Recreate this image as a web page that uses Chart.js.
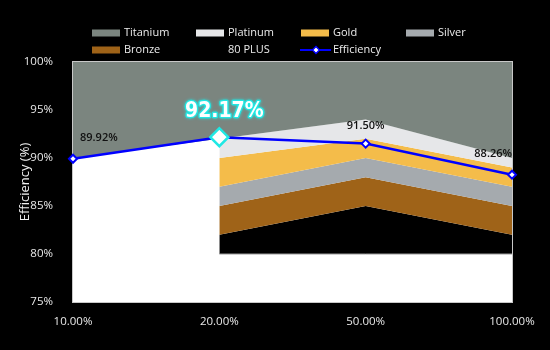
<!DOCTYPE html>
<html>
<head>
<meta charset="utf-8">
<script src="https://cdn.jsdelivr.net/npm/chart.js@4.4.1/dist/chart.umd.min.js"></script>
<style>
    html, body { margin: 0; padding: 0; background: #000; }
    #wrap { width: 550px; height: 350px; }
</style>
</head>
<body>
<div id="wrap"><canvas id="psuChart"></canvas></div>
<script>
// Load levels on the x axis
const loads = ['10.00%', '20.00%', '50.00%', '100.00%'];

// Minimum efficiency for each 80 PLUS tier (null = no requirement at that load)
const titanium = [90, 92, 94, 90];
const platinum = [null, 90, 92, 89];
const gold = [null, 87, 90, 87];
const silver = [null, 85, 88, 85];
const bronze = [null, 82, 85, 82];
const plus80 = [null, 80, 80, 80];

// Measured efficiency of the unit
const efficiency = [89.92, 92.17, 91.50, 88.26];

// Y axis tick values
const yTicks = [75, 80, 85, 90, 95, 100];

const peakIndex = efficiency.indexOf(Math.max(...efficiency));

// Each tier band fills from its own requirement up to the next tier above
const tierBand = (label, data, color, fill, extra) => Object.assign({
    label: label,
    data: data,
    backgroundColor: color,
    borderWidth: 0,
    pointRadius: 0,
    pointHoverRadius: 0,
    fill: fill,
    tension: 0,
    order: 1
}, extra || {});

// White plot background and light frame
const plotFrame = {
    id: 'plotFrame',
    beforeDatasetsDraw(chart) {
        const { ctx, chartArea: a } = chart;
        ctx.save();
        ctx.fillStyle = '#ffffff';
        ctx.fillRect(a.left, a.top, a.right - a.left, a.bottom - a.top);
        ctx.strokeStyle = '#c8c8c8';
        ctx.lineWidth = 1;
        ctx.strokeRect(a.left - 0.5, a.top - 0.5, a.right - a.left + 1, a.bottom - a.top + 1);
        ctx.restore();
    }
};

// Value labels over the efficiency points
const valueLabels = {
    id: 'valueLabels',
    afterDatasetsDraw(chart) {
        const { ctx } = chart;
        const idx = chart.data.datasets.findIndex(d => d.label === 'Efficiency');
        const meta = chart.getDatasetMeta(idx);
        const last = meta.data.length - 1;
        ctx.save();
        ctx.textBaseline = 'middle';
        meta.data.forEach((pt, i) => {
            const text = efficiency[i].toFixed(2) + '%';
            if (i === peakIndex) {
                ctx.font = 'bold 21px "DejaVu Sans Condensed"';
                ctx.textAlign = 'center';
                ctx.lineJoin = 'round';
                ctx.shadowColor = '#20e8e4';
                ctx.shadowBlur = 3;
                ctx.strokeStyle = '#20e8e4';
                ctx.lineWidth = 2.5;
                ctx.strokeText(text, pt.x + 5, pt.y - 26);
                ctx.shadowBlur = 0;
                ctx.fillStyle = '#ffffff';
                ctx.fillText(text, pt.x + 5, pt.y - 26);
                return;
            }
            ctx.font = '600 11px "Open Sans"';
            ctx.fillStyle = '#111111';
            if (i === 0) {
                ctx.textAlign = 'left';
                ctx.fillText(text, pt.x + 7, pt.y - 21);
            } else if (i === last) {
                ctx.textAlign = 'right';
                ctx.fillText(text, pt.x, pt.y - 21);
            } else {
                ctx.textAlign = 'center';
                ctx.fillText(text, pt.x, pt.y - 18);
            }
        });
        ctx.restore();
    }
};

// Legend laid out as a 4 column grid
const gridLegend = {
    id: 'gridLegend',
    afterDraw(chart) {
        const { ctx } = chart;
        const cols = [92, 196, 301, 406];
        const rows = [33, 50];
        ctx.save();
        ctx.font = '11px "Open Sans"';
        ctx.textBaseline = 'middle';
        ctx.textAlign = 'left';
        chart.data.datasets.forEach((ds, i) => {
            const x = cols[i % 4];
            const y = rows[Math.floor(i / 4)];
            if (ds.label === 'Efficiency') {
                ctx.strokeStyle = ds.borderColor;
                ctx.lineWidth = 2;
                ctx.beginPath();
                ctx.moveTo(x - 1, y);
                ctx.lineTo(x + 30, y);
                ctx.stroke();
                ctx.fillStyle = '#ffffff';
                ctx.lineWidth = 1.5;
                ctx.beginPath();
                ctx.moveTo(x + 15, y - 3.5);
                ctx.lineTo(x + 18.5, y);
                ctx.lineTo(x + 15, y + 3.5);
                ctx.lineTo(x + 11.5, y);
                ctx.closePath();
                ctx.fill();
                ctx.stroke();
            } else {
                ctx.fillStyle = ds.backgroundColor;
                ctx.fillRect(x, y - 3.5, 28, 7);
            }
            ctx.fillStyle = '#ececec';
            ctx.fillText(ds.label, x + 32, y);
        });
        ctx.restore();
    }
};

const initPsuChart = () => {
    Chart.defaults.font.family = '"Open Sans"';
    Chart.defaults.color = '#e8e8e8';
    const ctx = document.getElementById('psuChart').getContext('2d');
    new Chart(ctx, {
        type: 'line',
        data: {
            labels: loads,
            datasets: [
                tierBand('Titanium', titanium, '#7b857f', 'end'),
                tierBand('Platinum', platinum, '#e6e7e9', '-1'),
                tierBand('Gold', gold, '#f4bc4a', '-1'),
                tierBand('Silver', silver, '#a5aaae', '-1'),
                tierBand('Bronze', bronze, '#9f6318', '-1'),
                tierBand('80 PLUS', plus80, '#000000', '-1', { borderColor: '#9a9a9a', borderWidth: 1 }),
                {
                    label: 'Efficiency',
                    data: efficiency,
                    borderColor: '#0000ff',
                    borderWidth: 2.5,
                    fill: false,
                    tension: 0,
                    clip: false,
                    pointStyle: 'rectRot',
                    pointRadius: efficiency.map((v, i) => i === peakIndex ? 9 : 4),
                    pointBackgroundColor: '#ffffff',
                    pointBorderColor: efficiency.map((v, i) => i === peakIndex ? '#20e8e4' : '#0000ff'),
                    pointBorderWidth: efficiency.map((v, i) => i === peakIndex ? 2.5 : 2),
                    order: 0
                }
            ]
        },
        options: {
            responsive: true,
            maintainAspectRatio: false,
            animation: false,
            layout: { padding: { top: 62, right: 38, bottom: 0, left: 0 } },
            plugins: {
                legend: { display: false },
                tooltip: { enabled: false }
            },
            scales: {
                x: {
                    offset: false,
                    grid: { display: false },
                    border: { display: false },
                    ticks: { padding: 5, font: { size: 11.5 }, color: '#e8e8e8', maxRotation: 0 },
                    afterFit: s => { s.height = 48; }
                },
                y: {
                    min: 75,
                    max: 100,
                    grid: { display: false },
                    border: { display: false },
                    afterBuildTicks: s => { s.ticks = yTicks.map(v => ({ value: v })); },
                    ticks: { padding: 12, font: { size: 11.5 }, color: '#e8e8e8', callback: v => v + '%' },
                    title: {
                        display: true,
                        text: 'Efficiency (%)',
                        color: '#f0f0f0',
                        font: { size: 13 },
                        padding: { top: 17, bottom: 0 }
                    },
                    afterFit: s => { s.width = 73; }
                }
            }
        },
        plugins: [plotFrame, valueLabels, gridLegend]
    });
};

document.addEventListener('DOMContentLoaded', initPsuChart);
</script>
</body>
</html>
